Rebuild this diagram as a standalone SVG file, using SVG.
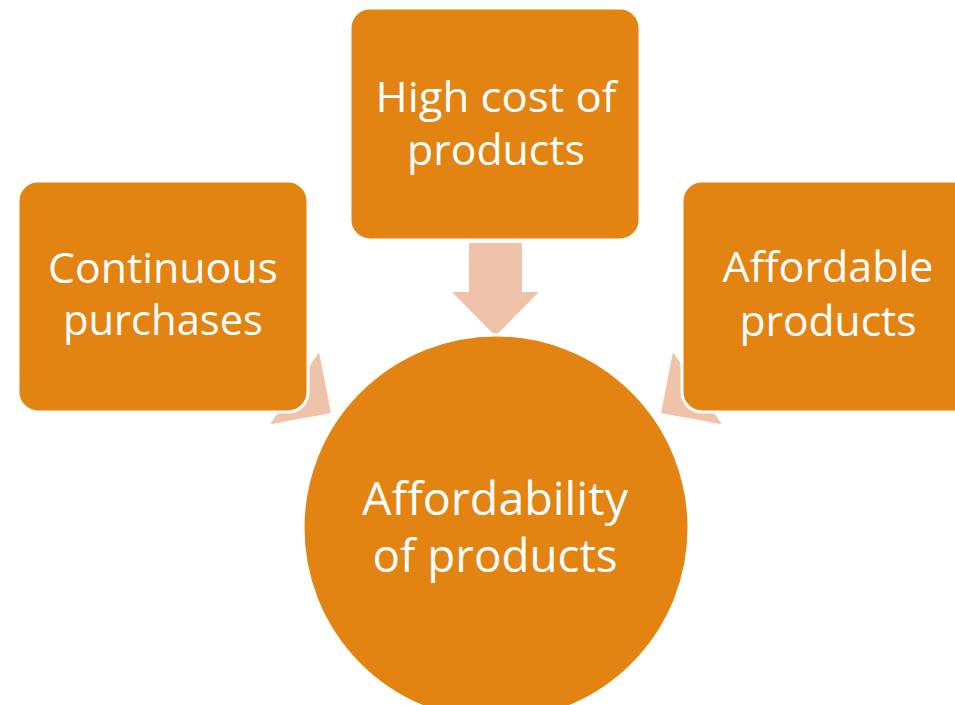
<svg xmlns="http://www.w3.org/2000/svg" width="955" height="705" viewBox="0 0 955 705">
<defs>
<style>
.box{fill:#E38312;stroke:#FFFFFF;stroke-width:3}
.arrow{fill:#EFC2AA}
.t{font-family:"Open Sans","Liberation Sans",sans-serif;fill:#FFFFFF;text-anchor:middle}
.b{font-size:42px}
.c{font-size:46px}
</style>
<polygon id="blk" class="arrow" points="-93,-26.5 -44,-26.5 -44,-43.5 0,0 -44,43.5 -44,26.5 -93,26.5"/>
</defs>
<rect width="955" height="705" fill="#FFFFFF"/>
<g id="connectors">
<use href="#blk" transform="translate(495.5,336) rotate(90)"/>
<use href="#blk" transform="translate(331,413) rotate(34.2)"/>
<use href="#blk" transform="translate(661,413) rotate(145.8)"/>
</g>
<g id="node-top">
<rect class="box" x="350" y="8" width="290" height="232" rx="20"/>
<text class="t b" x="496" y="112" textLength="241" lengthAdjust="spacingAndGlyphs">High cost of</text>
<text class="t b" x="496" y="165" textLength="178" lengthAdjust="spacingAndGlyphs">products</text>
</g>
<g id="node-left">
<rect class="box" x="18" y="181" width="290" height="231" rx="20"/>
<text class="t b" x="163" y="283" textLength="230" lengthAdjust="spacingAndGlyphs">Continuous</text>
<text class="t b" x="163" y="335" textLength="200" lengthAdjust="spacingAndGlyphs">purchases</text>
</g>
<g id="node-right">
<rect class="box" x="682" y="181" width="290" height="231" rx="20"/>
<text class="t b" x="828" y="282" textLength="211" lengthAdjust="spacingAndGlyphs">Affordable</text>
<text class="t b" x="828" y="336" textLength="177" lengthAdjust="spacingAndGlyphs">products</text>
</g>
<g id="node-center">
<circle cx="496" cy="528" r="193" fill="#E38312" stroke="#FFFFFF" stroke-width="3"/>
<text class="t c" x="495" y="515" textLength="266" lengthAdjust="spacingAndGlyphs">Affordability</text>
<text class="t c" x="495" y="572" textLength="245" lengthAdjust="spacingAndGlyphs">of products</text>
</g>
</svg>
